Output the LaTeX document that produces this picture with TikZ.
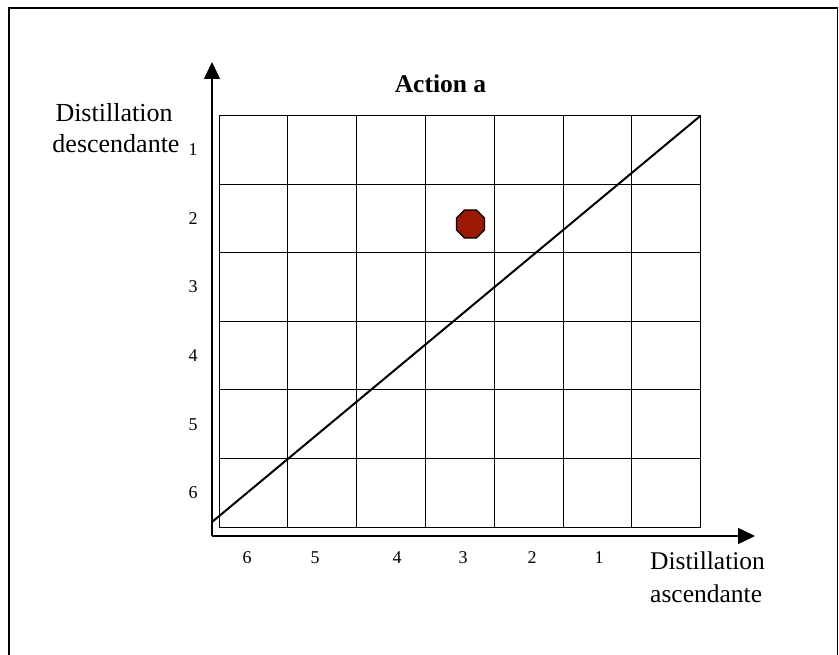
\documentclass[tikz,border=0pt]{standalone}
\usepackage{fontspec}
\setmainfont{Liberation Serif}
\usetikzlibrary{arrows.meta,shapes.geometric}
\definecolor{dotred}{RGB}{155,24,4}
\begin{document}
\begin{tikzpicture}[x=1pt,y=-1pt,
  gridline/.style={line width=1pt},
  axisline/.style={line width=1.6pt,-{Triangle[length=17pt,width=16pt]}},
  diagline/.style={line width=2pt},
  framelinestyle/.style={line width=1.5pt},
  axislbl/.style={font=\fontsize{25.5}{30}\selectfont,inner sep=0pt},
  ylbl/.style={font=\fontsize{26}{30}\selectfont,inner sep=0pt},
  ticklbl/.style={font=\fontsize{18}{20}\selectfont,inner sep=0pt},
  titlelbl/.style={font=\fontsize{25.5}{28}\selectfont\bfseries,inner sep=0pt},
  marker/.style={regular polygon,regular polygon sides=8,minimum size=30.5pt,inner sep=0pt,fill=dotred,draw=black,line width=1.3pt}]
\useasboundingbox (0,0) rectangle (839,655);
% frame
\draw[framelinestyle] (9,665) -- (9,8) -- (837.5,8) -- (837.5,665);
% grid
\foreach \i in {0,...,7}
  \draw[gridline] ({219+\i*68.8},115.7) -- ({219+\i*68.8},527);
\foreach \j in {0,...,6}
  \draw[gridline] (219,{115.7+\j*68.55}) -- (700.6,{115.7+\j*68.55});
% axes
\coordinate (O) at (212,536);
\coordinate (ytip) at (212,62);
\coordinate (xtip) at (755,536);
\draw[axisline] (O) -- (ytip);
\draw[axisline] (O) -- (xtip);
% diagonal
\coordinate (dA) at (212,522);
\coordinate (dB) at (700.6,115.7);
\draw[diagline] (dA) -- (dB);
% marker
\node[marker] (dot) at (470.5,224) {};
% title
\node[titlelbl,anchor=base] (title) at (440.5,93) {Action a};
% y label
\node[ylbl,anchor=base] (ylab1) at (114,122) {Distillation};
\node[ylbl,anchor=base] (ylab2) at (116,153) {descendante};
% x label
\node[axislbl,anchor=base west] (xlab1) at (650,569) {Distillation};
\node[axislbl,anchor=base west] (xlab2) at (650,602) {ascendante};
% y ticks
\foreach \n [count=\k from 0] in {1,...,6}
  \node[ticklbl] (yt\n) at (193,{150+\k*68.55}) {\n};
% x ticks
\node[ticklbl] (xt6) at (247,558) {6};
\node[ticklbl] (xt5) at (315,558) {5};
\node[ticklbl] (xt4) at (397,558) {4};
\node[ticklbl] (xt3) at (463,558) {3};
\node[ticklbl] (xt2) at (532,558) {2};
\node[ticklbl] (xt1) at (599,558) {1};
\end{tikzpicture}
\end{document}
